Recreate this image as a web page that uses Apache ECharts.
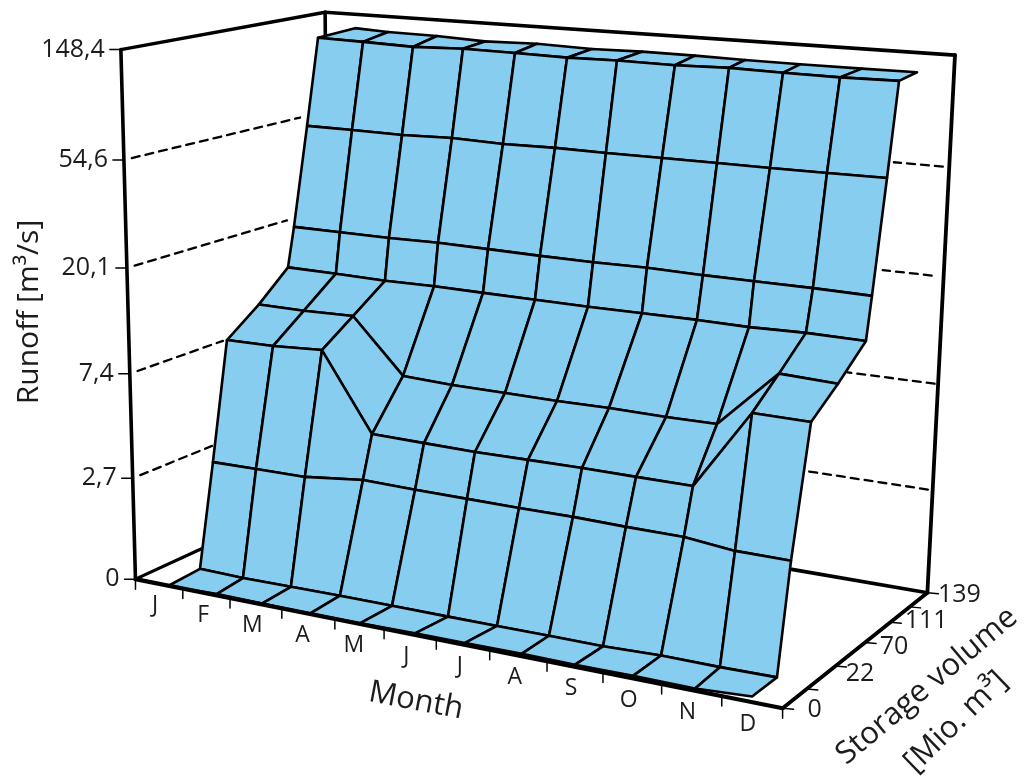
<!DOCTYPE html><html><head><meta charset="utf-8"><script src="https://cdn.jsdelivr.net/npm/echarts@6/dist/echarts.min.js"></script><style>html,body{margin:0;background:#fff}#c{width:1024px;height:779px}</style></head><body><div id="c"></div><script>
// Tick labels
const months = ['J','F','M','A','M','J','J','A','S','O','N','D'];
const runoffTicks = [1, 2.7, 7.4, 20.1, 54.6, 148.4];
const runoffTickLabels = ['0','2,7','7,4','20,1','54,6','148,4'];
const storageTicks = [0, 21, 47, 75, 100, 120, 139];
const storageLabelPos = [0, 40, 72, 104, 139];
const storageLabels = ['0','22','70','111','139'];
// Storage position of each surface vertex, one array per mesh line (front to back), J..D
const storage0 = [5.7,6.5,3.8,2.4,1.5,3.4,0.8,2.3,0,0.3,2.9,0];
const storage1 = [27.1,24.1,23.7,23.3,24.3,27.4,24.5,22.8,21.7,22.7,23.4,21.2];
const storage2 = [37.3,34.2,34.3,40.2,41.2,41.3,40.5,40.3,38.3,39.3,33.3,29.9];
const storage3 = [48.4,47.1,47.1,46.9,47.8,47.1,47.1,46.9,45.7,45.8,44.2,43.2];
const storage4 = [71.0,69.2,69.6,69.9,68.8,70.0,69.5,68.0,69.7,65.1,67.1,66.8];
const storage5 = [92.2,92.8,93.5,93.5,92.6,93.2,93.7,94.2,94.5,91.0,90.7,92.1];
const storage6 = [96.9,96.0,96.6,96.5,96.3,96.8,97.3,97.6,98.7,94.2,95.7,96.1];
const storage7 = [107.3,105.5,106.7,107.1,107.5,107.9,106.5,108.4,108.4,105.4,104.8,105.8];
const storage8 = [116.0,114.1,115.1,115.4,116.5,116.8,114.3,117.7,116.7,114.4,113.6,113.4];
const storage9 = [144.1,133.2,133.8,132.9,134.4,137.6,135.7,135.3,131.0,130.1,134.9,131.3];
// Runoff [m3/s] of each surface vertex
const runoff0 = [0.94,0.95,0.97,0.98,0.99,0.98,1.01,1.00,1.02,1.02,0.99,1.05];
const runoff1 = [0.96,0.98,0.99,1.00,0.99,0.96,0.99,1.01,1.02,1.03,1.02,1.05];
const runoff2 = [2.62,2.70,2.71,2.75,2.70,2.69,2.70,2.71,2.73,2.70,2.71,2.78];
const runoff3 = [8.25,8.37,8.61,4.12,4.06,4.05,4.07,4.09,4.12,4.11,8.63,8.65];
const runoff4 = [10.5,10.6,10.7,6.37,6.30,6.23,6.22,6.32,6.20,6.44,10.8,10.6];
const runoff5 = [13.8,13.7,13.5,13.6,13.6,13.5,13.4,13.4,13.4,13.6,13.8,13.6];
const runoff6 = [20.3,20.4,20.3,20.5,20.4,20.2,20.1,20.2,19.9,20.4,20.2,20.0];
const runoff7 = [53.4,53.9,53.4,54.2,53.4,53.8,54.0,53.6,53.7,54.4,54.7,54.7];
const runoff8 = [124,124,122,124,123,122,124,122,124,124,124,125];
const runoff9 = [127,130,129,127,128,125,127,127,128,128,126,128];

const storageRows = [storage0,storage1,storage2,storage3,storage4,storage5,storage6,storage7,storage8,storage9];
const runoffRows = [runoff0,runoff1,runoff2,runoff3,runoff4,runoff5,runoff6,runoff7,runoff8,runoff9];

// Camera: projective map from the unit box (month, storage, level) to the plot plane
const CAM = [[547.1236,230.5855,-20.63891,135.4693],[38.56093,-34.14985,-532.0402,579.1698],[-0.1277783,0.1124580,-0.05005865,1]];
const STORAGE_MAX = 139, LEVEL_MAX = Math.log(148.4);
const FONT = '"Open Sans"', INK = '#1c1c1c', FILL = '#87CDEF';
const project = (u,v,w) => {
  const d = CAM[2][0]*u + CAM[2][1]*v + CAM[2][2]*w + CAM[2][3];
  return [(CAM[0][0]*u + CAM[0][1]*v + CAM[0][2]*w + CAM[0][3])/d,
          (CAM[1][0]*u + CAM[1][1]*v + CAM[1][2]*w + CAM[1][3])/d];
};
const monthU = m => (m + 0.5) / months.length;
const levelW = r => Math.log(r) / LEVEL_MAX;
const vertex = (row,m) => project(monthU(m), storageRows[row][m]/STORAGE_MAX, levelW(runoffRows[row][m]));

// Frame segments: [u,v,w],[u,v,w],width,dashed
const frame = [
  [[0,0,0],[0,0,1],3.6], [[0,0,1],[0,1,1],3.4], [[0,1,1],[1,1,1],3.6], [[1,1,1],[1,1,0],3.8],
  [[0,1,1],[0,1,0],3.6], [[0,0,0],[0,0.315,0],3.2], [[1,1,0],[0.794,1,0],3.6]
];
const frameFront = [[[0,0,0],[1,0,0],4.2], [[1,0,0],[1,1,0],3.8]];
const leftDashEnd = [0.380,0.444,0.783,0.859];
const backDashEnd = [0.809,0.867,0.912,0.921];
const backDashStart = [0.993,0.995,0.983,0.991];
leftDashEnd.forEach((e,i)=>{ const w = levelW(runoffTicks[i+1]); frame.push([[0,0.035,w],[0,e,w],2.3,true]); });
backDashEnd.forEach((e,i)=>{ const w = levelW(runoffTicks[i+1]); frame.push([[backDashStart[i],1,w],[e,1,w],2.3,true]); });

const cells = [];
for (let r = storageRows.length-2; r >= 0; r--) for (let m = 0; m < months.length-1; m++) cells.push([r,m]);

const seg = (api,a,b,width,dash) => {
  const p = api.coord(a), q = api.coord(b);
  return {type:'line',shape:{x1:p[0],y1:p[1],x2:q[0],y2:q[1]},
    style:{stroke:'#000',lineWidth:width,lineDash:dash?[8,6]:null,lineCap:'round',fill:null}};
};
const label = (p,text,size,align) => ({type:'text',x:p[0],y:p[1],
  style:{text,fill:INK,fontSize:size,fontFamily:FONT,align:align||'center',verticalAlign:'middle'}});

const chart = echarts.init(document.getElementById('c'),null,{renderer:'canvas'});
const custom = (name,data,renderItem,z) => ({type:'custom',name,data,renderItem,coordinateSystem:'cartesian2d',clip:false,silent:true,animation:false,z,
  encode:{x:0,y:1}});
const monthTickU = [0,0.083,0.164,0.251,0.338,0.417,0.499,0.581,0.667,0.749,0.833,0.917,1];

chart.setOption({
  animation:false,
  backgroundColor:'#fff',
  grid:{left:0,right:0,top:0,bottom:0},
  xAxis:{type:'value',min:0,max:1024,show:false},
  yAxis:{type:'value',min:0,max:779,inverse:true,show:false},
  series:[
    custom('frame',frame.map((f,i)=>[i,0]),(p,api)=>{
      const f = frame[api.value(0)];
      return seg(api,project(...f[0]),project(...f[1]),f[2],f[3]);
    },1),
    custom('surface',cells,(p,api)=>{
      const r = api.value(0), m = api.value(1);
      const pts = [vertex(r,m),vertex(r,m+1),vertex(r+1,m+1),vertex(r+1,m)].map(q=>api.coord(q));
      return {type:'polygon',shape:{points:pts},style:{fill:FILL,stroke:'#000',lineWidth:2.6,lineJoin:'round'}};
    },2),
    custom('frameFront',frameFront.map((f,i)=>[i,0]),(p,api)=>{
      const f = frameFront[api.value(0)];
      return seg(api,project(...f[0]),project(...f[1]),f[2]);
    },3),
    custom('runoffAxis',runoffTicks.map((t,i)=>[i,0]),(p,api)=>{
      const i = api.value(0), a = project(0,0,levelW(runoffTicks[i]));
      return {type:'group',children:[
        seg(api,[a[0]-11,a[1]],a,1.5),
        label([a[0]-16,a[1]],runoffTickLabels[i],25,'right')
      ]};
    },3),
    custom('monthTicks',monthTickU.map((t,i)=>[i,0]),(p,api)=>{
      const a = project(monthTickU[api.value(0)],0,0);
      return seg(api,a,[a[0],a[1]+10],1.5);
    },3),
    custom('monthLabels',months.map((t,i)=>[i,0]),(p,api)=>{
      const i = api.value(0), a = project(monthU(i),0,0);
      return label([a[0]-4,a[1]+22],months[i],23);
    },3),
    custom('storageTicks',storageTicks.map((t,i)=>[i,0]),(p,api)=>{
      const a = project(1,storageTicks[api.value(0)]/STORAGE_MAX,0);
      return seg(api,a,[a[0]+11,a[1]+1],1.5);
    },3),
    custom('storageLabels',storageLabels.map((t,i)=>[i,0]),(p,api)=>{
      const i = api.value(0), a = project(1,storageLabelPos[i]/STORAGE_MAX,0);
      return label([a[0]+32,a[1]+2],storageLabels[i],25);
    },3)
  ],
  graphic:[
    {type:'text',x:29,y:312,rotation:Math.PI/2,style:{text:'Runoff [m³/s]',fontSize:30,fontFamily:FONT,fill:INK,align:'center',verticalAlign:'middle'}},
    {type:'text',x:416,y:701,rotation:-0.19,style:{text:'Month',fontSize:31,fontFamily:FONT,fill:INK,align:'center',verticalAlign:'middle'}},
    {type:'text',x:927,y:686,rotation:0.70,style:{text:'Storage volume',fontSize:31,fontFamily:FONT,fill:INK,align:'center',verticalAlign:'middle'}},
    {type:'text',x:956,y:722,rotation:0.77,style:{text:'[Mio. m³]',fontSize:31,fontFamily:FONT,fill:INK,align:'center',verticalAlign:'middle'}}
  ]
});
</script></body></html>
